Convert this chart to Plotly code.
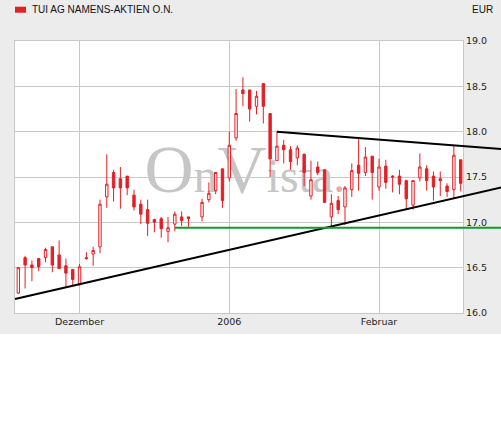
import plotly.graph_objects as go
import pandas as pd

title_text = "TUI AG NAMENS-AKTIEN O.N."
currency = "EUR"
watermark_text = ("<span style='font-size:68px'>O</span>n"
                  "<span style='font-size:68px'>V</span>ista"
                  "<span style='color:#eba9a9'>.</span>")

# trading-day slots (weekdays); 2005-12-26 has no quote
dates = [d.strftime("%Y-%m-%d") for d in pd.bdate_range("2005-11-18", "2006-02-17")]

open_ = [16.22, 16.61, 16.53, 16.60, 16.61, 16.73, 16.64, 16.52, 16.48, 16.31,
         16.61, 16.65, 16.73, 17.28, 17.55, 17.48, 17.51, 17.30, 17.20, 17.14,
         17.03, 17.04, 16.90, 16.98, 17.06, 17.06, None, 17.06, 17.25, 17.35,
         17.59, 17.49, 17.93, 18.46, 18.46, 18.28, 18.53, 18.20, 17.68, 17.85,
         17.80, 17.71, 17.75, 17.29, 17.61, 17.58, 17.06, 17.24, 17.17, 17.36,
         17.63, 17.55, 17.73, 17.39, 17.62, 17.51, 17.51, 17.46, 17.19, 17.49,
         17.59, 17.51, 17.48, 17.40, 17.36, 17.69]
high = [16.51, 16.63, 16.58, 16.60, 16.72, 16.73, 16.80, 16.60, 16.48, 16.54,
        16.67, 16.73, 17.25, 17.75, 17.58, 17.61, 17.51, 17.36, 17.25, 17.25,
        17.04, 17.06, 17.06, 17.12, 17.12, 17.06, None, 17.26, 17.44, 17.55,
        17.59, 18.00, 18.47, 18.60, 18.46, 18.45, 18.53, 18.20, 18.00, 17.91,
        17.84, 17.85, 17.76, 17.68, 17.67, 17.58, 17.31, 17.29, 17.40, 17.65,
        17.93, 17.83, 17.73, 17.70, 17.69, 17.52, 17.58, 17.47, 17.46, 17.76,
        17.63, 17.56, 17.56, 17.43, 17.85, 17.69]
low = [16.21, 16.27, 16.35, 16.46, 16.56, 16.45, 16.49, 16.29, 16.29, 16.31,
       16.59, 16.52, 16.66, 17.16, 17.23, 17.15, 17.30, 17.13, 16.98, 16.85,
       16.89, 16.83, 16.78, 16.90, 16.96, 16.95, None, 17.01, 17.22, 17.31,
       17.16, 17.45, 17.90, 18.28, 18.11, 18.19, 18.09, 17.50, 17.68, 17.65,
       17.58, 17.63, 17.40, 17.25, 17.52, 17.22, 16.95, 17.09, 16.97, 17.28,
       17.35, 17.51, 17.25, 17.35, 17.37, 17.33, 17.31, 17.14, 17.14, 17.45,
       17.35, 17.24, 17.29, 17.28, 17.26, 17.34]
close = [16.50, 16.53, 16.50, 16.51, 16.70, 16.53, 16.49, 16.44, 16.37, 16.51,
         16.60, 16.69, 17.20, 17.42, 17.38, 17.38, 17.38, 17.17, 17.09, 16.99,
         17.00, 16.93, 16.94, 17.09, 17.02, 17.04, None, 17.22, 17.32, 17.55,
         17.24, 17.85, 18.20, 18.42, 18.25, 18.39, 18.28, 17.70, 17.84, 17.80,
         17.67, 17.82, 17.55, 17.47, 17.55, 17.22, 17.21, 17.14, 17.38, 17.57,
         17.54, 17.72, 17.55, 17.61, 17.44, 17.50, 17.42, 17.26, 17.46, 17.61,
         17.46, 17.39, 17.46, 17.34, 17.74, 17.43]

x_tick_dates = ["2005-12-01", "2006-01-02", "2006-02-01"]
x_tick_labels = ["Dezember", "2006", "Februar"]
y_tick_values = [16.0, 16.5, 17.0, 17.5, 18.0, 18.5, 19.0]
y_tick_labels = ["16.0", "16.5", "17.0", "17.5", "18.0", "18.5", "19.0"]

# drawn analysis lines (anchor date, price)
lower_trend = [("2005-11-30", 16.30), ("2006-01-23", 16.955)]
upper_trend = [("2006-01-11", 18.00), ("2006-02-16", 17.85)]
support_start = "2005-12-21"
support_level = 16.94

RED = "#e61e25"
GRID = "#c8c8c8"
BG = "#ececec"
X_RANGE = [-0.485, 65.34]
Y_RANGE = [16.0, 19.0]
RIGHT_END = 1.09  # lines run into the right margin

pos = {d: i for i, d in enumerate(dates)}


def line_at(points, i):
    (d0, v0), (d1, v1) = points
    i0, i1 = pos[d0], pos[d1]
    return v0 + (v1 - v0) * (i - i0) / (i1 - i0)


def xp(i):
    return (i - X_RANGE[0]) / (X_RANGE[1] - X_RANGE[0])


def yp(v):
    return (v - Y_RANGE[0]) / (Y_RANGE[1] - Y_RANGE[0])


i_end = X_RANGE[0] + RIGHT_END * (X_RANGE[1] - X_RANGE[0])

fig = go.Figure()
fig.add_trace(go.Candlestick(
    x=dates, open=open_, high=high, low=low, close=close,
    increasing=dict(line=dict(color=RED, width=1), fillcolor="white"),
    decreasing=dict(line=dict(color=RED, width=1), fillcolor=RED),
    whiskerwidth=0, hoverinfo="skip", showlegend=False,
))

shapes = []
# white band at the bottom of the page
shapes.append(dict(type="rect", xref="paper", yref="paper", x0=-0.1, x1=1.2,
                   y0=-0.6, y1=-0.0772, fillcolor="white", line=dict(width=0),
                   layer="below"))
# watermark
shapes.append(dict(type="rect", xref="paper", yref="paper", x0=0.31, x1=0.716,
                   y0=0.356, y1=0.606, fillcolor="rgba(0,0,0,0)", line=dict(width=0),
                   layer="below",
                   label=dict(text=watermark_text, textposition="middle center",
                              font=dict(family="Liberation Serif", size=48, color="#c6c6c6"))))
# lower trend line
shapes.append(dict(type="line", xref="paper", yref="paper",
                   x0=xp(X_RANGE[0]), y0=yp(line_at(lower_trend, X_RANGE[0])),
                   x1=RIGHT_END, y1=yp(line_at(lower_trend, i_end)),
                   line=dict(color="black", width=2)))
# upper trend line
i_up = pos[upper_trend[0][0]]
shapes.append(dict(type="line", xref="paper", yref="paper",
                   x0=xp(i_up), y0=yp(line_at(upper_trend, i_up)),
                   x1=RIGHT_END, y1=yp(line_at(upper_trend, i_end)),
                   line=dict(color="black", width=2)))
# support line
shapes.append(dict(type="line", xref="paper", yref="paper",
                   x0=xp(pos[support_start]), y0=yp(support_level),
                   x1=RIGHT_END, y1=yp(support_level),
                   line=dict(color="#119a2e", width=2)))
# legend swatch
shapes.append(dict(type="rect", xref="paper", yref="paper", x0=0.0, x1=0.0246,
                   y0=1.104, y1=1.126, fillcolor=RED, line=dict(width=0)))

annotations = [
    dict(text=title_text, xref="paper", yref="paper", x=0.0335, y=1.116,
         xanchor="left", yanchor="middle", showarrow=False,
         font=dict(family="Liberation Sans", size=10, color="#111111")),
    dict(text=currency, xref="paper", yref="paper", x=1.0714, y=1.116,
         xanchor="right", yanchor="middle", showarrow=False,
         font=dict(family="Liberation Sans", size=10, color="#111111")),
]

fig.update_layout(
    width=501, height=433,
    margin=dict(l=15, r=38, t=41, b=120),
    paper_bgcolor=BG, plot_bgcolor="white",
    boxgap=0.5,
    shapes=shapes, annotations=annotations,
    showlegend=False,
    xaxis=dict(type="category", categoryorder="array", categoryarray=dates,
               range=X_RANGE, tickvals=x_tick_dates, ticktext=x_tick_labels,
               showgrid=True, gridcolor=GRID, gridwidth=1,
               showline=True, linecolor=GRID, linewidth=1, mirror=True,
               ticks="", zeroline=False, fixedrange=True,
               rangeslider=dict(visible=False),
               tickfont=dict(family="DejaVu Sans", size=9.5, color="#222222")),
    yaxis=dict(side="right", range=Y_RANGE, tickvals=y_tick_values,
               ticktext=y_tick_labels, showgrid=True, gridcolor=GRID, gridwidth=1,
               showline=True, linecolor=GRID, linewidth=1, mirror=True,
               ticks="", zeroline=False, fixedrange=True,
               tickfont=dict(family="DejaVu Sans", size=9.5, color="#222222")),
)

fig.write_html("out.html", config={"displayModeBar": False},
               post_script="document.body.style.margin='0';")
